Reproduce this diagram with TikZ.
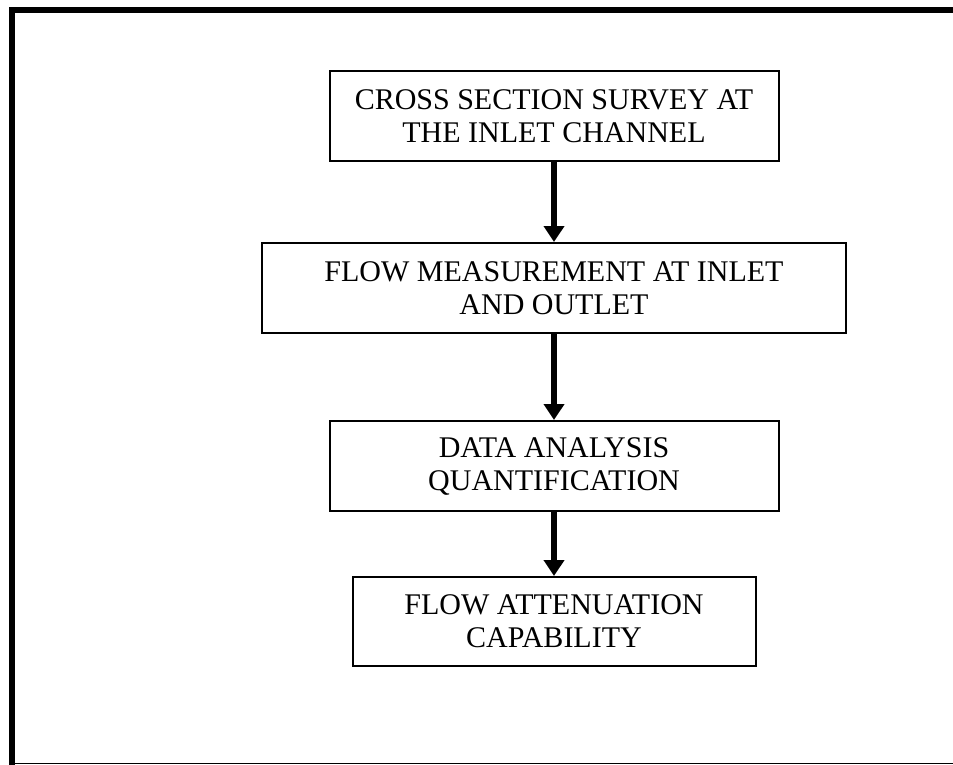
\documentclass[tikz,border=0pt]{standalone}
\usepackage{fontspec}
\setmainfont{Liberation Serif}
\usepackage{tikz}
\usetikzlibrary{positioning,arrows.meta}

\begin{document}
\begin{tikzpicture}[
    x=1pt, y=1pt,
    stepbox/.style={rectangle, draw, line width=2pt, align=center,
        font=\fontsize{30}{33}\selectfont, inner sep=0pt},
    flow/.style={line width=6.5pt, -{Triangle[width=20pt,length=16pt]}}
]
    \useasboundingbox (0,0) rectangle (953,-765);
    \draw[line width=6pt] (12.2,-765) -- (12.2,-9.7) -- (953,-9.7);
    \draw[line width=1.5pt] (12.2,-763.5) -- (953,-763.5);

    \node[stepbox, minimum width=449pt, minimum height=90pt] (survey) at (554,-116)
        {CROSS SECTION SURVEY AT\\THE INLET CHANNEL};
    \node[stepbox, minimum width=584pt, minimum height=90pt, below=80pt of survey] (measure)
        {FLOW MEASUREMENT AT INLET\\AND OUTLET};
    \node[stepbox, minimum width=449pt, minimum height=90pt, below=86pt of measure] (analysis)
        {DATA ANALYSIS\\QUANTIFICATION};
    \node[stepbox, minimum width=403pt, minimum height=89pt, below=64pt of analysis] (capability)
        {FLOW ATTENUATION\\CAPABILITY};

    \draw[flow] (survey) -- (measure);
    \draw[flow] (measure) -- (analysis);
    \draw[flow] (analysis) -- (capability);
\end{tikzpicture}
\end{document}
